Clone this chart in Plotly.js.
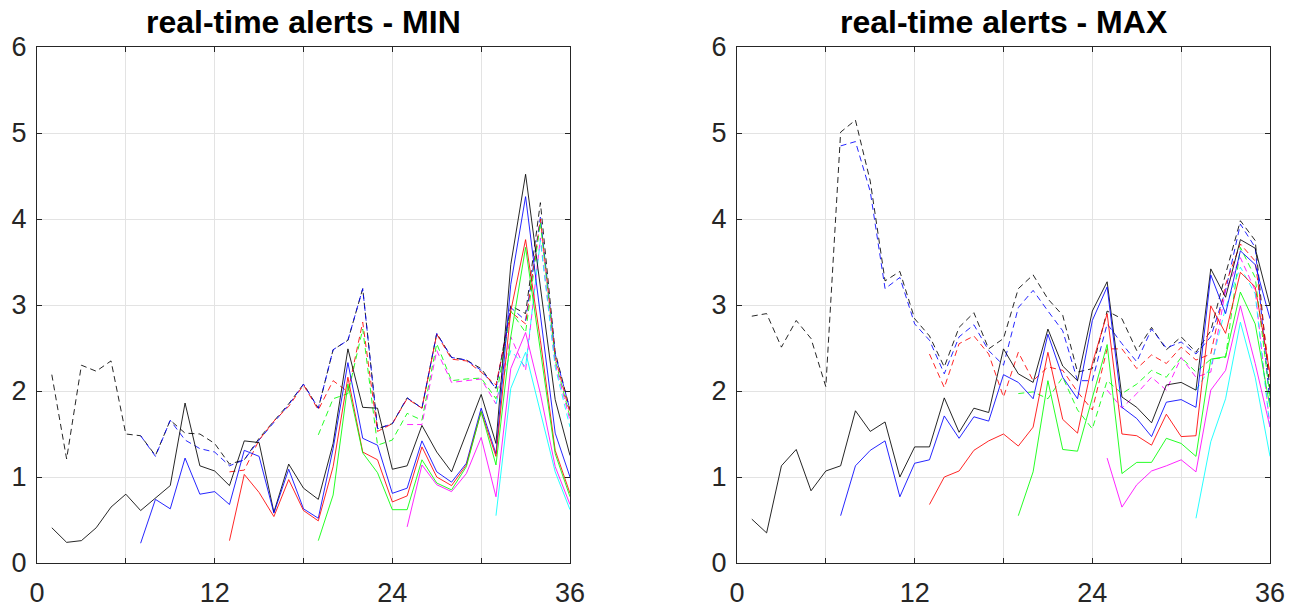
<!DOCTYPE html>
<html>
<head>
<meta charset="utf-8">
<script src="https://cdn.plot.ly/plotly-3.0.1.min.js"></script>
<style>html,body{margin:0;padding:0;background:#fff;}#chart{width:1305px;height:608px;}</style>
</head>
<body>
<div id="chart"></div>
<script>
// x values (weeks)
var weeks = [];
for (var i = 1; i <= 36; i++) weeks.push(i);
var N = null;

// ---- MIN panel ----
var minBlackSolid = [0.41,0.24,0.26,0.41,0.65,0.80,0.61,0.76,0.90,1.86,1.13,1.07,0.90,1.42,1.40,0.59,1.15,0.87,0.74,1.39,2.49,1.81,1.80,1.09,1.13,1.60,1.29,1.06,1.51,1.96,1.39,3.47,4.52,3.20,1.90,1.25];
var minBlueSolid = [N,N,N,N,N,N,0.23,0.74,0.63,1.22,0.80,0.83,0.68,1.31,1.24,0.58,1.09,0.63,0.52,1.33,2.33,1.45,1.37,0.81,0.87,1.42,1.06,0.94,1.16,1.80,1.27,3.24,4.26,2.86,1.51,1.00];
var minRedSolid = [N,N,N,N,N,N,N,N,N,N,N,N,0.26,1.03,0.82,0.54,0.97,0.61,0.49,1.12,2.16,1.29,1.20,0.71,0.78,1.35,1.00,0.90,1.14,1.76,1.24,2.93,3.76,2.59,1.31,0.81];
var minGreenSolid = [N,N,N,N,N,N,N,N,N,N,N,N,N,N,N,N,N,N,0.26,0.79,2.08,1.28,1.05,0.62,0.62,1.20,0.93,0.85,1.12,1.76,1.14,2.63,3.67,2.47,1.27,0.77];
var minMagentaSolid = [N,N,N,N,N,N,N,N,N,N,N,N,N,N,N,N,N,N,N,N,N,N,N,N,0.42,1.14,0.91,0.83,1.04,1.46,0.77,2.26,2.68,1.97,1.12,0.68];
var minCyanSolid = [N,N,N,N,N,N,N,N,N,N,N,N,N,N,N,N,N,N,N,N,N,N,N,N,N,N,N,N,N,N,0.55,2.03,2.45,1.74,1.06,0.62];
var minBlackDash = [2.19,1.21,2.30,2.23,2.35,1.50,1.48,1.25,1.66,1.51,1.50,1.39,1.15,1.20,1.45,1.65,1.85,2.08,1.80,2.48,2.59,3.19,1.56,1.62,1.92,1.80,2.67,2.39,2.36,2.26,2.03,2.99,2.90,4.19,2.45,1.78];
var minBlueDash = [N,N,N,N,N,N,1.48,1.24,1.66,1.43,1.33,1.29,1.13,1.20,1.43,1.64,1.84,2.08,1.80,2.48,2.59,3.19,1.56,1.62,1.92,1.80,2.67,2.39,2.36,2.24,2.03,2.97,2.82,4.02,2.43,1.78];
var minRedDash = [N,N,N,N,N,N,N,N,N,N,N,N,1.06,1.08,1.43,1.65,1.82,2.07,1.78,2.12,1.99,2.80,1.53,1.62,1.91,1.80,2.66,2.37,2.35,2.22,2.07,2.92,2.78,4.00,2.39,1.74];
var minGreenDash = [N,N,N,N,N,N,N,N,N,N,N,N,N,N,N,N,N,N,1.49,1.91,1.97,2.72,1.37,1.43,1.74,1.66,2.55,2.12,2.14,2.15,1.91,2.93,2.68,3.96,2.36,1.70];
var minMagentaDash = [N,N,N,N,N,N,N,N,N,N,N,N,N,N,N,N,N,N,N,N,N,N,N,N,1.61,1.61,2.47,2.10,2.12,2.14,1.85,2.63,2.24,3.78,2.32,1.66];
var minCyanDash = [N,N,N,N,N,N,N,N,N,N,N,N,N,N,N,N,N,N,N,N,N,N,N,N,N,N,N,N,N,N,1.85,2.47,2.28,3.75,2.28,1.58];

// ---- MAX panel ----
var maxBlackSolid = [0.51,0.35,1.13,1.32,0.84,1.07,1.13,1.77,1.53,1.64,1.00,1.35,1.35,1.92,1.52,1.80,1.75,2.49,2.20,2.10,2.72,2.29,2.12,2.93,3.27,1.93,1.81,1.63,2.07,2.10,2.01,3.42,3.09,3.76,3.66,2.99];
var maxBlueSolid = [N,N,N,N,N,N,0.55,1.13,1.31,1.42,0.77,1.16,1.20,1.71,1.45,1.70,1.65,2.19,2.10,1.91,2.66,2.16,1.91,2.82,3.21,1.81,1.68,1.47,1.87,1.90,1.81,3.35,2.90,3.63,3.47,2.84];
var maxRedSolid = [N,N,N,N,N,N,N,N,N,N,N,N,0.68,1.00,1.07,1.31,1.42,1.50,1.36,1.58,2.45,1.67,1.51,2.32,2.90,1.50,1.48,1.37,1.73,1.47,1.48,2.99,2.67,3.38,3.21,2.20];
var maxGreenSolid = [N,N,N,N,N,N,N,N,N,N,N,N,N,N,N,N,N,N,0.55,1.06,2.12,1.32,1.30,1.93,2.54,1.04,1.17,1.17,1.45,1.39,1.24,2.37,2.40,3.15,2.78,1.81];
var maxMagentaSolid = [N,N,N,N,N,N,N,N,N,N,N,N,N,N,N,N,N,N,N,N,N,N,N,N,1.22,0.65,0.91,1.07,1.13,1.20,1.06,2.01,2.24,2.99,2.32,1.58];
var maxCyanSolid = [N,N,N,N,N,N,N,N,N,N,N,N,N,N,N,N,N,N,N,N,N,N,N,N,N,N,N,N,N,N,0.52,1.41,1.91,2.80,2.16,1.24];
var maxBlackDash = [2.87,2.90,2.51,2.82,2.61,2.05,5.01,5.15,4.44,3.28,3.39,2.84,2.64,2.28,2.74,2.91,2.49,2.61,3.19,3.35,3.07,2.88,2.22,2.26,2.93,2.84,2.47,2.74,2.48,2.63,2.45,2.70,3.36,3.98,3.75,2.00];
var maxBlueDash = [N,N,N,N,N,N,4.85,4.90,4.32,3.19,3.32,2.78,2.59,2.20,2.63,2.77,2.47,2.30,2.97,3.17,2.93,2.70,2.12,2.12,2.78,2.55,2.34,2.72,2.50,2.57,2.43,2.63,3.17,3.94,3.67,1.85];
var maxRedDash = [N,N,N,N,N,N,N,N,N,N,N,N,2.43,2.04,2.55,2.64,2.43,1.93,2.45,2.12,2.28,2.24,1.99,1.78,2.49,2.49,2.26,2.42,2.32,2.51,2.36,2.43,3.24,3.71,3.51,2.16];
var maxGreenDash = [N,N,N,N,N,N,N,N,N,N,N,N,N,N,N,N,N,N,1.97,1.99,1.91,2.16,1.78,1.56,2.12,1.97,2.08,2.24,2.16,2.39,2.22,2.37,2.39,3.67,3.32,1.93];
var maxMagentaDash = [N,N,N,N,N,N,N,N,N,N,N,N,N,N,N,N,N,N,N,N,N,N,N,N,2.01,1.80,1.97,2.16,2.01,2.39,2.16,2.22,3.17,3.55,3.17,1.58];
var maxCyanDash = [N,N,N,N,N,N,N,N,N,N,N,N,N,N,N,N,N,N,N,N,N,N,N,N,N,N,N,N,N,N,2.01,2.28,2.97,3.44,3.13,1.56];

var xTickVals = [0,6,12,18,24,30,36];
var xTickText = ['0','','12','','24','','36'];
var yTickVals = [0,1,2,3,4,5,6];
var titles = ['real-time alerts - MIN','real-time alerts - MAX'];

var colors = {black:'#000000', blue:'#0000ff', red:'#ff0000', green:'#00ff00', magenta:'#ff00ff', cyan:'#00ffff'};

function tr(y, color, dashed, xa, ya) {
  return {x: weeks, y: y, type: 'scatter', mode: 'lines', xaxis: xa, yaxis: ya,
    line: {color: color, width: 1, dash: dashed ? '6px,4px' : 'solid'},
    opacity: 0.85, hoverinfo: 'none', showlegend: false, connectgaps: false};
}

var data = [
  tr(minBlackDash, colors.black, true, 'x', 'y'),
  tr(minBlueDash, colors.blue, true, 'x', 'y'),
  tr(minRedDash, colors.red, true, 'x', 'y'),
  tr(minGreenDash, colors.green, true, 'x', 'y'),
  tr(minMagentaDash, colors.magenta, true, 'x', 'y'),
  tr(minCyanDash, colors.cyan, true, 'x', 'y'),
  tr(minBlackSolid, colors.black, false, 'x', 'y'),
  tr(minBlueSolid, colors.blue, false, 'x', 'y'),
  tr(minRedSolid, colors.red, false, 'x', 'y'),
  tr(minGreenSolid, colors.green, false, 'x', 'y'),
  tr(minMagentaSolid, colors.magenta, false, 'x', 'y'),
  tr(minCyanSolid, colors.cyan, false, 'x', 'y'),
  tr(maxBlackDash, colors.black, true, 'x2', 'y2'),
  tr(maxBlueDash, colors.blue, true, 'x2', 'y2'),
  tr(maxRedDash, colors.red, true, 'x2', 'y2'),
  tr(maxGreenDash, colors.green, true, 'x2', 'y2'),
  tr(maxMagentaDash, colors.magenta, true, 'x2', 'y2'),
  tr(maxCyanDash, colors.cyan, true, 'x2', 'y2'),
  tr(maxBlackSolid, colors.black, false, 'x2', 'y2'),
  tr(maxBlueSolid, colors.blue, false, 'x2', 'y2'),
  tr(maxRedSolid, colors.red, false, 'x2', 'y2'),
  tr(maxGreenSolid, colors.green, false, 'x2', 'y2'),
  tr(maxMagentaSolid, colors.magenta, false, 'x2', 'y2'),
  tr(maxCyanSolid, colors.cyan, false, 'x2', 'y2')
];

var W = 1305, H = 608;
var tickFont = {family: 'Liberation Sans, Arial, Helvetica, sans-serif', size: 27, color: '#262626'};
function xax(d0, d1, anchor) {
  return {domain: [d0 / W, d1 / W], anchor: anchor, range: [0, 36], tickmode: 'array',
    tickvals: xTickVals, ticktext: xTickText, ticks: 'inside', ticklen: 5, tickcolor: '#262626',
    showline: true, linecolor: '#262626', linewidth: 1, mirror: 'ticks',
    showgrid: true, gridcolor: '#e3e3e3', gridwidth: 1, zeroline: false,
    ticklabelstandoff: 6,
    tickfont: tickFont, fixedrange: true};
}
function yax(anchor) {
  return {domain: [1 - 563 / H, 1 - 47 / H], anchor: anchor, range: [0, 6], tickmode: 'array',
    tickvals: yTickVals, ticks: 'inside', ticklen: 5, tickcolor: '#262626',
    showline: true, linecolor: '#262626', linewidth: 1, mirror: 'ticks',
    showgrid: true, gridcolor: '#e3e3e3', gridwidth: 1, zeroline: false,
    ticklabelstandoff: 4,
    tickfont: tickFont, fixedrange: true};
}

var titleFont = {family: 'Liberation Sans, Arial, Helvetica, sans-serif', size: 32, color: '#000000'};
var layout = {
  width: W, height: H,
  margin: {l: 0, r: 0, t: 0, b: 0},
  paper_bgcolor: '#ffffff', plot_bgcolor: '#ffffff',
  showlegend: false,
  xaxis: xax(37, 570, 'y'),
  yaxis: yax('x'),
  xaxis2: xax(737, 1270, 'y2'),
  yaxis2: yax('x2'),
  annotations: [
    {text: '<b>' + titles[0] + '</b>', xref: 'paper', yref: 'paper', x: (37 + 570) / 2 / W, y: 1 - 22 / H,
     xanchor: 'center', yanchor: 'middle', showarrow: false, font: titleFont},
    {text: '<b>' + titles[1] + '</b>', xref: 'paper', yref: 'paper', x: (737 + 1270) / 2 / W, y: 1 - 22 / H,
     xanchor: 'center', yanchor: 'middle', showarrow: false, font: titleFont}
  ]
};

Plotly.newPlot('chart', data, layout, {staticPlot: true, displayModeBar: false});
</script>
</body>
</html>
